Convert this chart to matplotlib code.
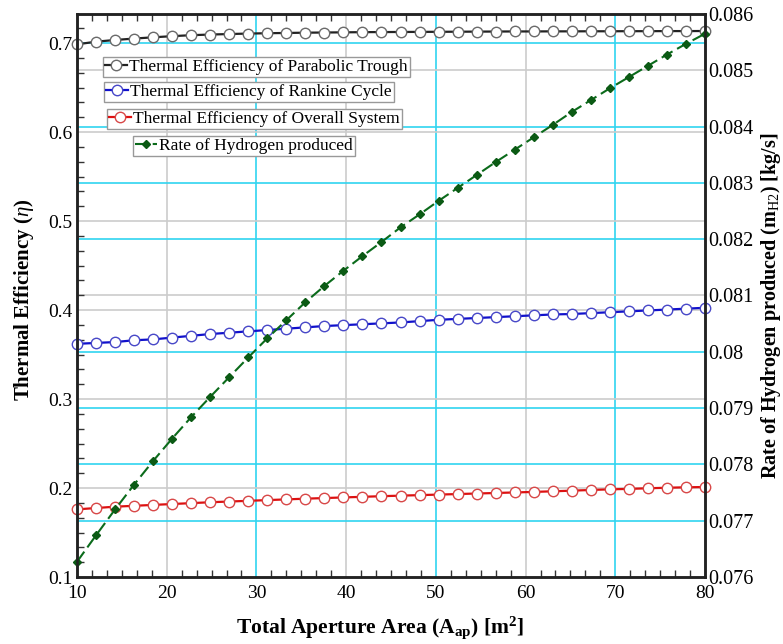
import matplotlib
matplotlib.use("Agg")
import matplotlib.pyplot as plt
from matplotlib.ticker import MultipleLocator
from matplotlib.transforms import blended_transform_factory

plt.rcParams['font.family'] = ['Liberation Serif', 'DejaVu Serif']
plt.rcParams['mathtext.fontset'] = 'custom'
plt.rcParams['mathtext.rm'] = 'Liberation Serif'
plt.rcParams['mathtext.it'] = 'Liberation Serif:italic'
plt.rcParams['mathtext.bf'] = 'Liberation Serif:bold'

# ---- data ----
area = [10.00, 12.12, 14.24, 16.36, 18.48, 20.61, 22.73, 24.85, 26.97, 29.09,
        31.21, 33.33, 35.45, 37.58, 39.70, 41.82, 43.94, 46.06, 48.18, 50.30,
        52.42, 54.55, 56.67, 58.79, 60.91, 63.03, 65.15, 67.27, 69.39, 71.52,
        73.64, 75.76, 77.88, 80.00]

eff_trough = [0.6985, 0.7015, 0.7034, 0.7050, 0.7064, 0.7077, 0.7088, 0.7095, 0.7101, 0.7106,
              0.7110, 0.7113, 0.7116, 0.7118, 0.7120, 0.7122, 0.7123, 0.7124, 0.7125, 0.7126,
              0.7127, 0.7128, 0.7129, 0.7130, 0.7130, 0.7131, 0.7131, 0.7132, 0.7132, 0.7133,
              0.7133, 0.7134, 0.7134, 0.7135]

eff_rankine = [0.362, 0.363, 0.364, 0.366, 0.367, 0.369, 0.371, 0.373, 0.3745, 0.376,
               0.3775, 0.379, 0.3805, 0.382, 0.383, 0.384, 0.385, 0.386, 0.3875, 0.389,
               0.390, 0.391, 0.392, 0.393, 0.394, 0.395, 0.3955, 0.3965, 0.3975, 0.3985,
               0.3995, 0.4005, 0.4015, 0.4025]

eff_overall = [0.1760, 0.1775, 0.1790, 0.1800, 0.1810, 0.1820, 0.1830, 0.1840, 0.1848, 0.1856,
               0.1864, 0.1872, 0.1880, 0.1887, 0.1894, 0.1901, 0.1908, 0.1914, 0.1920, 0.1926,
               0.1932, 0.1938, 0.1944, 0.1950, 0.1956, 0.1963, 0.1970, 0.1978, 0.1985, 0.1990,
               0.1997, 0.2003, 0.2008, 0.2011]

h2_rate = [0.07627, 0.07674, 0.07720, 0.07764, 0.07806, 0.07846, 0.07884, 0.07920, 0.07955, 0.07990,
           0.08024, 0.08056, 0.08088, 0.08117, 0.08144, 0.08170, 0.08195, 0.08221, 0.08244, 0.08268,
           0.08291, 0.08314, 0.08337, 0.08359, 0.08381, 0.08403, 0.08426, 0.08447, 0.08468, 0.08488,
           0.08508, 0.08528, 0.08547, 0.08565]

labels = ["Thermal Efficiency of Parabolic Trough",
          "Thermal Efficiency of Rankine Cycle",
          "Thermal Efficiency of Overall System",
          "Rate of Hydrogen produced"]

# ---- figure ----
W, H = 783, 644
fig = plt.figure(figsize=(W / 100, H / 100), dpi=100)
ax = fig.add_axes([77 / W, 1 - 577 / H, (705 - 77) / W, (577 - 14) / H])
ax2 = ax.twinx()

ax.set_xlim(10, 80)
ax.set_ylim(0.1, 0.7326)
ax2.set_ylim(0.076, 0.086)

gray = '#cccccc'
cyan = '#30d4f0'
# vertical grid
for v in [20, 40, 60]:
    ax.axvline(v, color=gray, lw=1.2, zorder=0)
for v in [30, 50, 70]:
    ax.axvline(v, color=cyan, lw=1.2, zorder=0)
# left-axis grid
for v in [0.2, 0.3, 0.4, 0.5, 0.6]:
    ax.axhline(v, color=gray, lw=1.2, zorder=0)
ax.axhline(0.7, color=cyan, lw=1.2, zorder=0)
# right-axis grid, drawn on the lower axes in right-axis coordinates
tr = blended_transform_factory(ax.transAxes, ax2.transData)
for v in [0.081, 0.085]:
    ax.plot([0, 1], [v, v], transform=tr, color=gray, lw=1.2, zorder=0)
for v in [0.077, 0.078, 0.079, 0.080, 0.082, 0.083, 0.084]:
    ax.plot([0, 1], [v, v], transform=tr, color=cyan, lw=1.2, zorder=0)

mk = dict(marker='o', markersize=7.5, markerfacecolor='white', markeredgewidth=1.0,
          lw=1.6, clip_on=False)
h1, = ax.plot(area, eff_trough, color='#222222', markeredgecolor='#6a6a6a', label=labels[0], **mk)
h2, = ax.plot(area, eff_rankine, color='#1010cc', markeredgecolor='#4848c8', label=labels[1], **mk)
h3, = ax.plot(area, eff_overall, color='#dd1010', markeredgecolor='#d84848', label=labels[2], **mk)
h4, = ax2.plot(area, h2_rate, color='#0b6b1b', ls=(0, (6, 2.5)), lw=1.5, marker='D',
               markersize=4.5, markerfacecolor='#0b5a14', markeredgecolor='#0b5a14',
               label=labels[3], clip_on=False)

# ticks
ax.xaxis.set_minor_locator(MultipleLocator(10 / 6))
ax.yaxis.set_minor_locator(MultipleLocator(0.1 / 6))
ax.set_xticks([10, 20, 30, 40, 50, 60, 70, 80])
ax.set_xticklabels(['10', '20', '30', '40', '50', '60', '70', '80'])
ax.set_yticks([0.1, 0.2, 0.3, 0.4, 0.5, 0.6, 0.7])
ax.set_yticklabels(['0.1', '0.2', '0.3', '0.4', '0.5', '0.6', '0.7'])
ax.tick_params(axis='x', which='both', direction='in', top=True, bottom=True,
               labelsize=14, pad=6)
ax.tick_params(axis='x', which='major', length=0)
ax.tick_params(axis='x', which='minor', length=5, width=1, color='#333333')
ax.tick_params(axis='y', which='major', length=0, labelsize=14, pad=3)
ax.tick_params(axis='y', which='minor', direction='in', length=5, width=1, color='#333333')
ax2.set_yticks([0.076, 0.077, 0.078, 0.079, 0.080, 0.081, 0.082, 0.083, 0.084, 0.085, 0.086])
ax2.set_yticklabels(['0.076', '0.077', '0.078', '0.079', '0.08', '0.081', '0.082',
                     '0.083', '0.084', '0.085', '0.086'])
ax2.tick_params(axis='y', length=0, labelsize=14.5, pad=2)

for a in (ax, ax2):
    for s in a.spines.values():
        s.set_linewidth(1.8)
        s.set_color('#222222')

# axis titles
fig.text(380 / W, 1 - 628 / H, r'Total Aperture Area (A$_\mathbf{ap}$) [m$^\mathbf{2}$]',
         fontsize=15.5, fontweight='bold', ha='center', va='center')
fig.text(24 / W, 1 - 300 / H, r'Thermal Efficiency ($\eta$)', fontsize=15,
         fontweight='bold', ha='center', va='center', rotation=90)
fig.text(771 / W, 1 - 306 / H, r'Rate of Hydrogen produced (m$_\mathrm{H2}$) [kg/s]',
         fontsize=14.5, fontweight='bold', ha='center', va='center', rotation=90)

# four separate legend boxes
pos = [(103, 57), (104, 82), (107, 109), (133, 136)]
for hd, (px, py) in zip([h1, h2, h3, h4], pos):
    lg = fig.legend(handles=[hd], loc='upper left', bbox_to_anchor=(px / W, 1 - py / H),
                    bbox_transform=fig.transFigure, borderaxespad=0, fontsize=12.5,
                    fancybox=False, edgecolor='#999999', framealpha=1, borderpad=0.12,
                    handlelength=1.25, handletextpad=0.12, numpoints=1)
    lg.get_frame().set_linewidth(1.0)

fig.savefig('out.png', dpi=100)
